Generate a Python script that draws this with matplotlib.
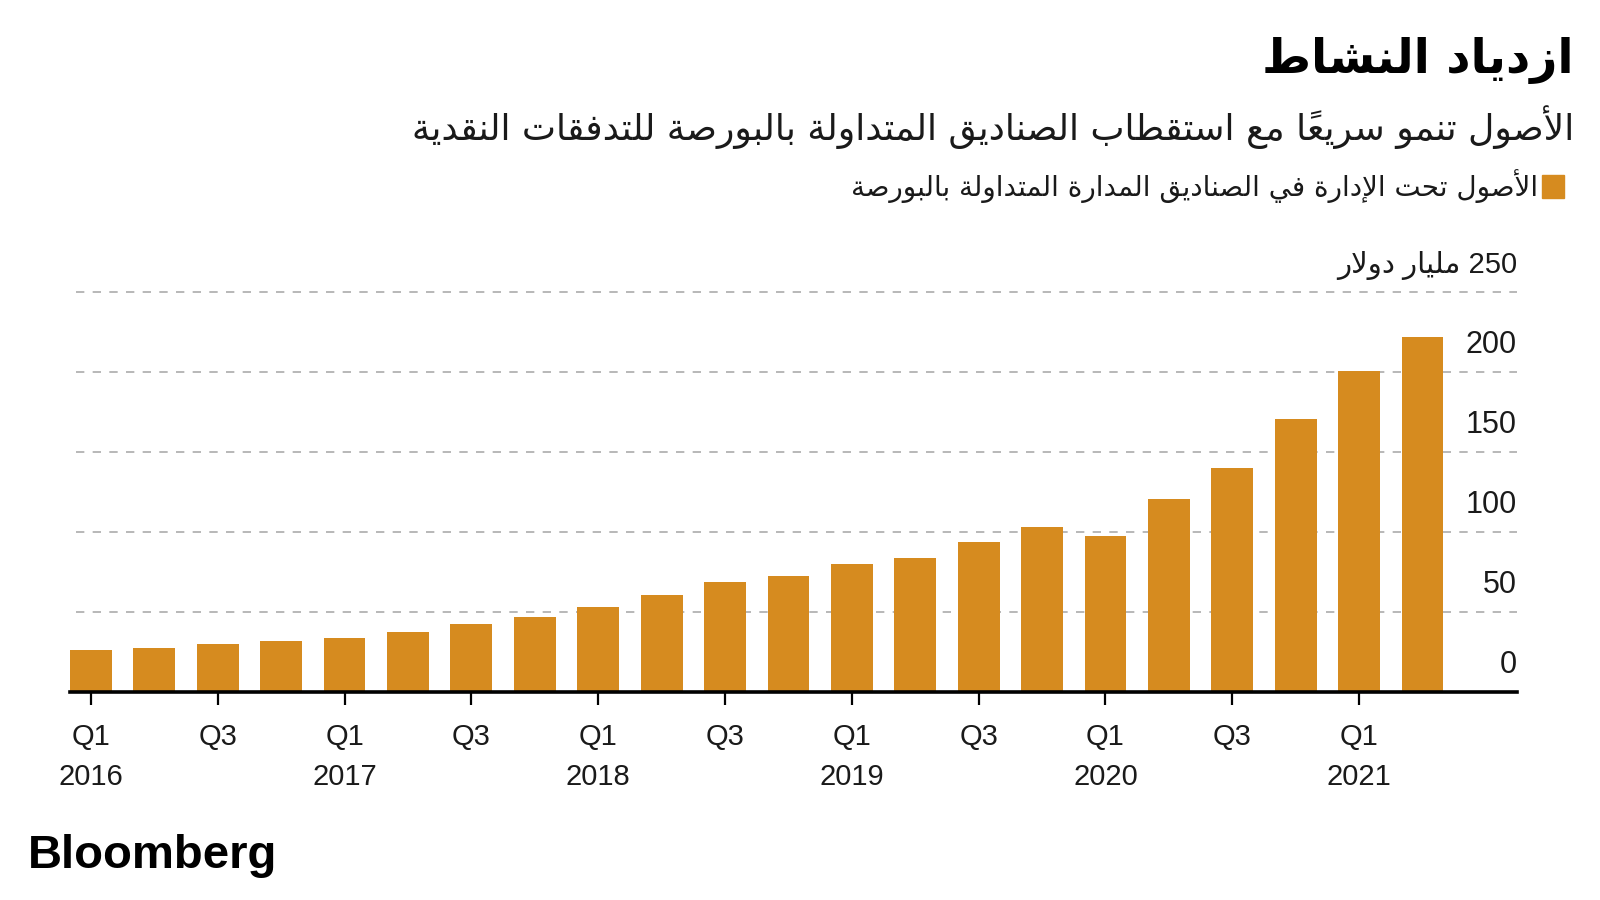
import matplotlib
matplotlib.use('Agg')
import matplotlib.pyplot as plt
from matplotlib.patches import Rectangle

# Data: assets under management in exchange-traded funds (billion $), per quarter
quarters = ['Q1 2016', 'Q2 2016', 'Q3 2016', 'Q4 2016',
            'Q1 2017', 'Q2 2017', 'Q3 2017', 'Q4 2017',
            'Q1 2018', 'Q2 2018', 'Q3 2018', 'Q4 2018',
            'Q1 2019', 'Q2 2019', 'Q3 2019', 'Q4 2019',
            'Q1 2020', 'Q2 2020', 'Q3 2020', 'Q4 2020',
            'Q1 2021', 'Q2 2021']
aum = [26.2, 27.5, 29.8, 31.9, 33.8, 37.5, 42.5, 47.0,
       53.0, 60.6, 68.5, 72.3, 80.0, 84.0, 93.6, 103.2,
       97.5, 120.6, 140.0, 170.6, 200.6, 221.9]
tick_pos = [0, 2, 4, 6, 8, 10, 12, 14, 16, 18, 20]
tick_labels = ['Q1\n2016', 'Q3', 'Q1\n2017', 'Q3', 'Q1\n2018', 'Q3',
               'Q1\n2019', 'Q3', 'Q1\n2020', 'Q3', 'Q1\n2021']
yticks = [0, 50, 100, 150, 200, 250]

title = 'ازدياد النشاط'
subtitle = 'الأصول تنمو سريعاً مع استقطاب الصناديق المتداولة بالبورصة للتدفقات النقدية'
legend_label = 'الأصول تحت الإدارة في الصناديق المدارة المتداولة بالبورصة'
unit_label = '250 مليار دولار'

bar_color = '#D68B1F'

# --- minimal Arabic shaping (matplotlib has no RTL / joining support) ---
DUAL = {'ب': 0xFE8F, 'ت': 0xFE95, 'ث': 0xFE99, 'ج': 0xFE9D, 'ح': 0xFEA1, 'خ': 0xFEA5,
        'س': 0xFEB1, 'ش': 0xFEB5, 'ص': 0xFEB9, 'ض': 0xFEBD, 'ط': 0xFEC1, 'ظ': 0xFEC5,
        'ع': 0xFEC9, 'غ': 0xFECD, 'ف': 0xFED1, 'ق': 0xFED5, 'ك': 0xFED9, 'ل': 0xFEDD,
        'م': 0xFEE1, 'ن': 0xFEE5, 'ه': 0xFEE9, 'ي': 0xFEF1, 'ئ': 0xFE89}
RIGHT = {'ا': 0xFE8D, 'أ': 0xFE83, 'إ': 0xFE87, 'آ': 0xFE81, 'ؤ': 0xFE85, 'د': 0xFEA9,
         'ذ': 0xFEAB, 'ر': 0xFEAD, 'ز': 0xFEAF, 'و': 0xFEED, 'ة': 0xFE93, 'ى': 0xFEEF}
LAM_ALEF = {'آ': 0xFEF5, 'أ': 0xFEF7, 'إ': 0xFEF9, 'ا': 0xFEFB}
MARKS = set(chr(c) for c in range(0x064B, 0x0653))


def kind(ch):
    if ch in DUAL:
        return 'D'
    if ch in RIGHT or ch.startswith('LA'):
        return 'R'
    return None


def ar(text):
    units = []
    for ch in text:
        if ch in MARKS and units:
            units[-1][1] += ch
        else:
            units.append([ch, ''])
    merged = []
    i = 0
    while i < len(units):
        ch, mk = units[i]
        if ch == 'ل' and i + 1 < len(units) and units[i + 1][0] in LAM_ALEF:
            merged.append(['LA' + units[i + 1][0], mk + units[i + 1][1]])
            i += 2
        else:
            merged.append([ch, mk])
            i += 1
    out = []
    for i, (ch, mk) in enumerate(merged):
        k = kind(ch)
        if k is None:
            out.append(ch + mk)
            continue
        prev = merged[i - 1][0] if i > 0 else None
        nxt = merged[i + 1][0] if i + 1 < len(merged) else None
        jp = prev is not None and kind(prev) == 'D'
        jn = k == 'D' and nxt is not None and kind(nxt) is not None
        base = LAM_ALEF[ch[2]] if ch.startswith('LA') else DUAL.get(ch, RIGHT.get(ch))
        if jp and jn:
            g = base + 3
        elif jp:
            g = base + 1
        elif jn:
            g = base + 2
        else:
            g = base
        out.append(chr(g) + mk)
    out.reverse()
    # keep digit runs left-to-right
    res, run = [], []
    for u in out:
        if u.isascii() and u[0].isalnum():
            run.append(u)
        else:
            res.extend(reversed(run))
            run = []
            res.append(u)
    res.extend(reversed(run))
    return ''.join(res)


def fx(px):
    return px / 1600


def fy(py):
    return 1 - py / 900


num_font = ['Liberation Sans', 'DejaVu Sans']
ar_font = ['DejaVu Sans']

fig = plt.figure(figsize=(16, 9), dpi=100)
fig.patch.set_facecolor('white')
ax = fig.add_axes([fx(70), fy(692), fx(1517) - fx(70), fy(292) - fy(692)])

x = list(range(len(aum)))
ax.bar(x, aum, width=0.66, color=bar_color, zorder=2)
ax.set_xlim(-0.33, 22.49)
ax.set_ylim(0, 250)

for v in yticks[1:]:
    ax.axhline(v, xmin=0.004, color='#ababab', lw=1.2, ls=(0, (5, 5)), zorder=1,
               clip_on=False)

for s in ['top', 'right', 'left']:
    ax.spines[s].set_visible(False)
ax.spines['bottom'].set_linewidth(2.6)
ax.spines['bottom'].set_color('black')
ax.spines['bottom'].set_zorder(3)

ax.set_yticks([])
ax.set_xticks(tick_pos)
ax.set_xticklabels(tick_labels, family=num_font, fontsize=21, color='#1a1a1a',
                   linespacing=1.55)
ax.tick_params(axis='x', length=9, width=1.6, color='black', pad=13)

for v in yticks:
    label = ar(unit_label) if v == 250 else str(v)
    ax.annotate(label, xy=(1, v), xycoords=('axes fraction', 'data'),
                xytext=(0, 14), textcoords='offset points',
                ha='right', va='baseline', fontsize=22 if v != 250 else 21,
                family=num_font, color='#1a1a1a')

# header
fig.text(fx(1574), fy(73), ar(title), ha='right', va='baseline', fontsize=34,
         fontweight='bold', family=ar_font, color='black')
fig.text(fx(1574), fy(140), ar(subtitle), ha='right', va='baseline', fontsize=26,
         family=ar_font, color='#1a1a1a')
fig.patches.append(Rectangle((fx(1542), fy(198)), fx(22), 23 / 900,
                             transform=fig.transFigure, color=bar_color))
fig.text(fx(1538), fy(196), ar(legend_label), ha='right', va='baseline', fontsize=20,
         family=ar_font, color='#1a1a1a')

fig.text(fx(28), fy(868), 'Bloomberg', ha='left', va='baseline', fontsize=34,
         fontweight='bold', family=num_font, color='black')

fig.savefig('out.png', dpi=100, facecolor='white')
